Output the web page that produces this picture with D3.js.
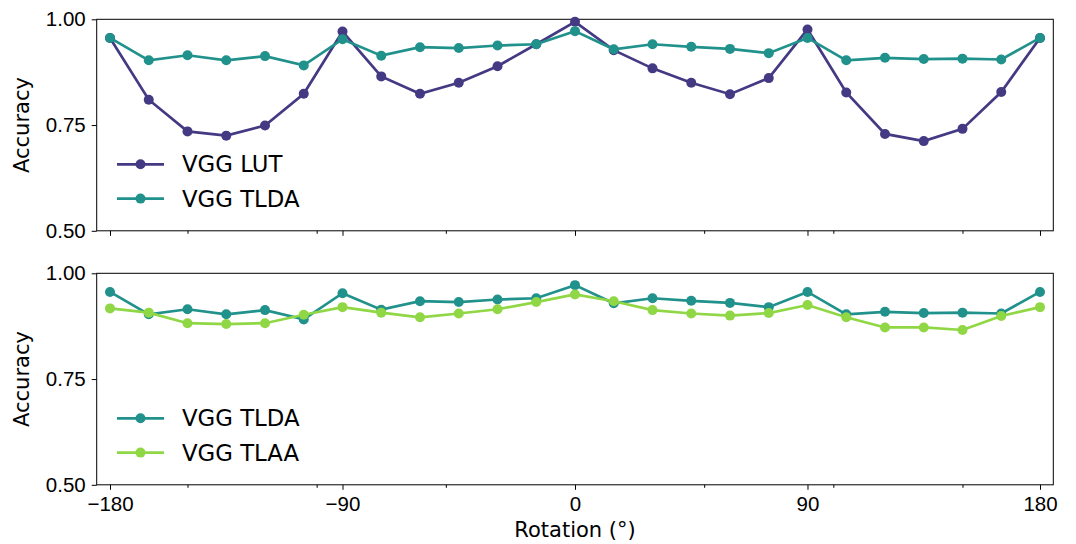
<!DOCTYPE html>
<html>
<head>
<meta charset="utf-8">
<script src="https://cdn.jsdelivr.net/npm/d3@7"></script>
<style>
  body { margin: 0; background: #fff; }
  svg { font-family: 'DejaVu Sans', sans-serif; }
  .axis text { font-size: 20.5px; fill: #000; }
  .axis path, .axis line { stroke: #000; stroke-width: 1; }
  .axis-label { font-size: 21px; fill: #000; }
  .legend-label { font-size: 22.8px; fill: #000; }
</style>
</head>
<body>
<svg id="chart"></svg>
<script>
const rotations = [-180, -165, -150, -135, -120, -105, -90, -75, -60, -45, -30, -15, 0,
  15, 30, 45, 60, 75, 90, 105, 120, 135, 150, 165, 180];

const lutValues = [0.956, 0.810, 0.735, 0.725, 0.749, 0.824, 0.971, 0.865, 0.824, 0.850, 0.889, 0.941, 0.994,
  0.927, 0.884, 0.850, 0.823, 0.861, 0.976, 0.827, 0.729, 0.712, 0.741, 0.828, 0.956];

const tldaValues = [0.956, 0.903, 0.915, 0.903, 0.913, 0.891, 0.953, 0.914, 0.934, 0.932, 0.938, 0.941, 0.972,
  0.929, 0.941, 0.935, 0.930, 0.920, 0.956, 0.903, 0.909, 0.906, 0.907, 0.905, 0.956];

const tlaaValues = [0.917, 0.907, 0.882, 0.880, 0.882, 0.902, 0.920, 0.907, 0.896, 0.905, 0.915, 0.932, 0.950,
  0.934, 0.913, 0.905, 0.900, 0.906, 0.925, 0.896, 0.872, 0.872, 0.866, 0.899, 0.920];

const xTicks = [-180, -90, 0, 90, 180];
const xMinorTicks = [-150, -100, -50, 50, 100, 150];
const yTicks = [0.5, 0.75, 1.0];

const panels = [
  { top: 19.3, series: [
    { name: 'VGG LUT', values: lutValues, color: '#443a83' },
    { name: 'VGG TLDA', values: tldaValues, color: '#21918c' },
  ] },
  { top: 273.3, series: [
    { name: 'VGG TLDA', values: tldaValues, color: '#21918c' },
    { name: 'VGG TLAA', values: tlaaValues, color: '#8fd744' },
  ] },
];

const width = 1076;
const height = 544;
const left = 96.7;
const right = 1053.3;
const panelHeight = 211.5;

const svg = d3.select('#chart').attr('width', width).attr('height', height);

const xScale = d3.scaleLinear().domain([-185.15, 185.15]).range([left, right]);
const fmt = (d) => d.toString().replace('-', '\u2212');

panels.forEach((panel, i) => {
  const yScale = d3.scaleLinear().domain([0.5, 1.0]).range([panel.top + panelHeight, panel.top]);
  const g = svg.append('g');
  const isBottom = i === panels.length - 1;

  // Axes
  const xAxis = d3.axisBottom(xScale).tickValues(xTicks).tickSize(5).tickPadding(7)
    .tickFormat(isBottom ? fmt : () => '');
  g.append('g')
    .attr('class', 'axis')
    .attr('transform', 'translate(0,' + (panel.top + panelHeight) + ')')
    .call(xAxis)
    .call((a) => a.select('.domain').remove());

  g.append('g')
    .attr('class', 'axis')
    .attr('transform', 'translate(0,' + (panel.top + panelHeight) + ')')
    .call(d3.axisBottom(xScale).tickValues(xMinorTicks).tickSize(3).tickFormat(() => ''))
    .call((a) => a.select('.domain').remove());

  g.append('g')
    .attr('class', 'axis')
    .attr('transform', 'translate(' + left + ',0)')
    .call(d3.axisLeft(yScale).tickValues(yTicks).tickSize(5).tickPadding(6).tickFormat(d3.format('.2f')))
    .call((a) => a.select('.domain').remove());

  // Frame
  g.append('rect')
    .attr('x', left)
    .attr('y', panel.top)
    .attr('width', right - left)
    .attr('height', panelHeight)
    .attr('fill', 'none')
    .attr('stroke', '#000')
    .attr('stroke-width', 1);

  // Y label
  g.append('text')
    .attr('class', 'axis-label')
    .attr('text-anchor', 'middle')
    .attr('transform', 'translate(28.5,' + (panel.top + panelHeight / 2) + ') rotate(-90)')
    .text('Accuracy');

  // Lines and markers
  const line = d3.line()
    .x((d, j) => xScale(rotations[j]))
    .y((d) => yScale(d));

  panel.series.forEach((s) => {
    g.append('path')
      .datum(s.values)
      .attr('fill', 'none')
      .attr('stroke', s.color)
      .attr('stroke-width', 2.7)
      .attr('d', line);
    g.selectAll(null)
      .data(s.values)
      .enter()
      .append('circle')
      .attr('cx', (d, j) => xScale(rotations[j]))
      .attr('cy', (d) => yScale(d))
      .attr('r', 5)
      .attr('fill', s.color);
  });

  // Legend
  const legend = g.append('g')
    .attr('transform', 'translate(117,' + (panel.top + 145) + ')');
  panel.series.forEach((s, k) => {
    const row = legend.append('g').attr('transform', 'translate(0,' + k * 34.3 + ')');
    row.append('line')
      .attr('x1', 0).attr('x2', 47)
      .attr('stroke', s.color)
      .attr('stroke-width', 2.7);
    row.append('circle').attr('cx', 23.5).attr('r', 5).attr('fill', s.color);
    row.append('text')
      .attr('class', 'legend-label')
      .attr('x', 65)
      .attr('dy', '0.35em')
      .text(s.name);
  });
});

// X label
svg.append('text')
  .attr('class', 'axis-label')
  .attr('text-anchor', 'middle')
  .attr('x', (left + right) / 2)
  .attr('y', 537.3)
  .text('Rotation (\u00b0)');
</script>
</body>
</html>
